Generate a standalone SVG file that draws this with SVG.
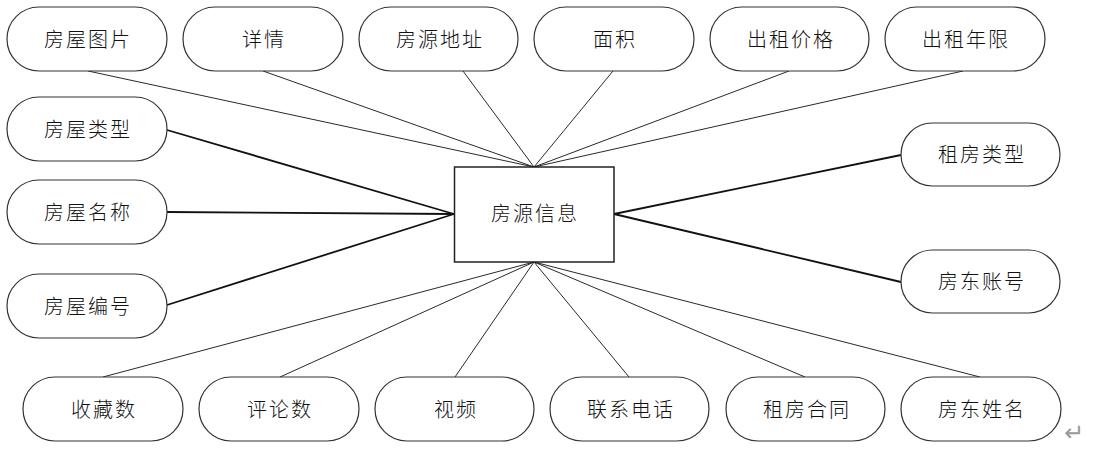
<svg xmlns="http://www.w3.org/2000/svg" width="1102" height="454" viewBox="0 0 1102 454">
<style>
.n rect{fill:#fff;stroke:#333;stroke-width:1.2}
.n text{font-family:"Noto Sans CJK SC","Noto Sans",sans-serif;font-size:20px;fill:#111;text-anchor:middle;letter-spacing:2px;font-weight:300}
.c line{stroke:#111;stroke-width:0.9}
.c line.t{stroke-width:1.8}
</style>
<rect width="1102" height="454" fill="#fff"/>
<g id="connectors" class="c">
<line x1="88" y1="71" x2="534" y2="167"/>
<line x1="263" y1="71" x2="534" y2="167"/>
<line x1="463" y1="71" x2="534" y2="167"/>
<line x1="613" y1="71" x2="534" y2="167"/>
<line x1="789" y1="71" x2="534" y2="167"/>
<line x1="963" y1="71" x2="534" y2="167"/>
<line class="t" x1="167" y1="130" x2="454" y2="214"/>
<line class="t" x1="167" y1="212" x2="454" y2="214"/>
<line class="t" x1="167" y1="305" x2="454" y2="214"/>
<line class="t" x1="901" y1="155" x2="614" y2="214"/>
<line class="t" x1="901" y1="282" x2="614" y2="214"/>
<line x1="103" y1="377" x2="534" y2="262"/>
<line x1="280" y1="377" x2="534" y2="262"/>
<line x1="455" y1="377" x2="534" y2="262"/>
<line x1="629" y1="377" x2="534" y2="262"/>
<line x1="805" y1="377" x2="534" y2="262"/>
<line x1="980" y1="377" x2="534" y2="262"/>
</g>
<g id="center" class="n"><rect x="454.5" y="167" width="159.5" height="95" rx="0" style="stroke:#222;stroke-width:1.5"/><text x="535" y="221">房源信息</text></g>
<g id="n1" class="n"><rect x="7" y="7" width="160" height="64" rx="32"/><text x="88" y="47">房屋图片</text></g>
<g id="n2" class="n"><rect x="183" y="7" width="160" height="64" rx="32"/><text x="264" y="47">详情</text></g>
<g id="n3" class="n"><rect x="359" y="7" width="159" height="64" rx="32"/><text x="440" y="47">房源地址</text></g>
<g id="n4" class="n"><rect x="534" y="7" width="160" height="64" rx="32"/><text x="615" y="47">面积</text></g>
<g id="n5" class="n"><rect x="710" y="7" width="159" height="64" rx="32"/><text x="791" y="47">出租价格</text></g>
<g id="n6" class="n"><rect x="885" y="7" width="160" height="64" rx="32"/><text x="966" y="47">出租年限</text></g>
<g id="n7" class="n"><rect x="7" y="97" width="160" height="64" rx="32"/><text x="88" y="137">房屋类型</text></g>
<g id="n8" class="n"><rect x="7" y="180" width="160" height="64" rx="32"/><text x="88" y="220">房屋名称</text></g>
<g id="n9" class="n"><rect x="7" y="274" width="160" height="64" rx="32"/><text x="88" y="314">房屋编号</text></g>
<g id="n10" class="n"><rect x="901" y="123" width="159" height="63" rx="31.5"/><text x="982" y="162">租房类型</text></g>
<g id="n11" class="n"><rect x="901" y="250" width="159" height="63" rx="31.5"/><text x="982" y="289">房东账号</text></g>
<g id="n12" class="n"><rect x="23" y="377" width="160" height="64" rx="32"/><text x="104" y="417">收藏数</text></g>
<g id="n13" class="n"><rect x="199" y="377" width="160" height="64" rx="32"/><text x="280" y="417">评论数</text></g>
<g id="n14" class="n"><rect x="375" y="377" width="159" height="64" rx="32"/><text x="456" y="417">视频</text></g>
<g id="n15" class="n"><rect x="550" y="377" width="159" height="64" rx="32"/><text x="631" y="417">联系电话</text></g>
<g id="n16" class="n"><rect x="726" y="377" width="159" height="64" rx="32"/><text x="807" y="417">租房合同</text></g>
<g id="n17" class="n"><rect x="901" y="377" width="160" height="64" rx="32"/><text x="982" y="417">房东姓名</text></g>
<text x="1074" y="441" font-family="DejaVu Sans,sans-serif" font-size="24" fill="#999" text-anchor="middle">↵</text>
</svg>
